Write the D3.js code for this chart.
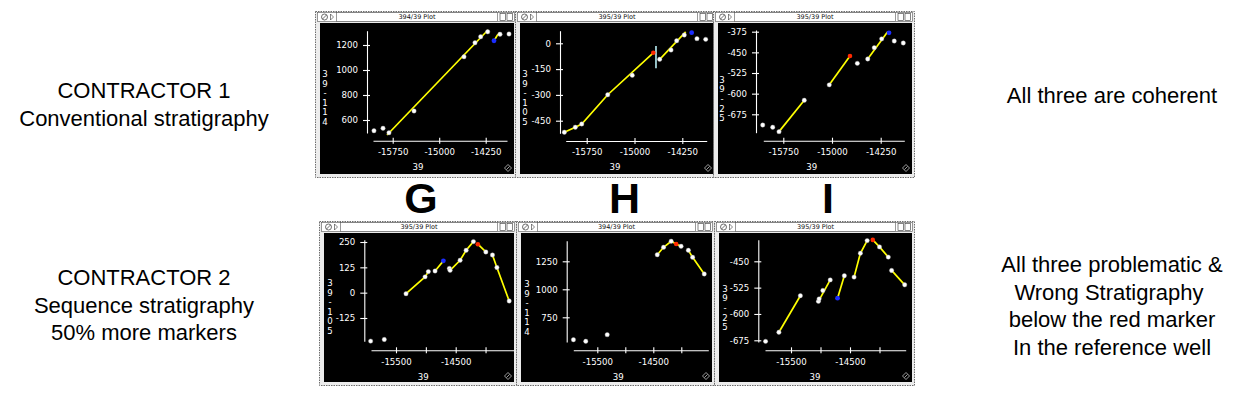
<!DOCTYPE html>
<html>
<head>
<meta charset="utf-8">
<script src="https://d3js.org/d3.v7.min.js"></script>
<style>
    body { margin: 0; background: #fff; }
    svg { display: block; }
    .side { font-family: "Liberation Sans", Arial, sans-serif; font-size: 22px; fill: #000; }
    .big { font-family: "Liberation Sans", Arial, sans-serif; font-size: 43px; font-weight: bold; fill: #000; }
    .pt { font-family: "DejaVu Sans", Verdana, sans-serif; font-size: 8.6px; fill: #fff; }
    .wt { font-family: "DejaVu Sans", Verdana, sans-serif; font-size: 6.5px; fill: #111; }
</style>
</head>
<body>
<script>
// tick values
let xTicksTop = [-15750, -15000, -14250];
let xTicksBottom = [-15500, -15000, -14500, -14000];
let xLabelsBottom = [-15500, -14500];

let yTicksG1 = [600, 800, 1000, 1200];
let yTicksH1 = [-450, -300, -150, 0];
let yTicksI1 = [-675, -600, -525, -450, -375];
let yTicksG2 = [-125, 0, 125, 250];
let yTicksH2 = [750, 1000, 1250];
let yTicksI2 = [-675, -600, -525, -450];

// contractor 1 - markers (x = 39, y = well)
let dotsG1 = [[-16052, 514], [-15906, 534], [-15810, 498], [-15406, 672], [-14600, 1106], [-14423, 1218],
    [-14331, 1266], [-14218, 1306], [-14019, 1286], [-13874, 1288]];
let linesG1 = [[[-15842, 480], [-14213, 1320]], [[-14116, 1234], [-14060, 1280], [-14019, 1298]]];
let blueG1 = [-14116, 1234];

let dotsH1 = [[-16101, -517], [-15929, -488], [-15828, -469], [-15420, -299], [-15035, -186], [-14605, -93],
    [-14427, -39], [-14338, 15], [-14219, 48], [-14020, 27], [-13883, 23]];
let linesH1 = [[[-16101, -517], [-15929, -488], [-15828, -469], [-15420, -299], [-14705, -55]],
    [[-14605, -93], [-14197, 66]]];
let redH1 = [-14705, -55];
let blueH1 = [-14103, 62];
let barH1 = [[-14663, -16], [-14663, -145]];

let dotsI1 = [[-16067, -714], [-15913, -722], [-15816, -738], [-15427, -624], [-15042, -568], [-14610, -490],
    [-14450, -474], [-14349, -433], [-14235, -401], [-14041, -409], [-13902, -416]];
let linesI1 = [[[-15816, -738], [-15427, -624]], [[-15042, -568], [-14723, -463]], [[-14450, -474], [-14140, -374]]];
let redI1 = [-14723, -463];
let blueI1 = [-14122, -379];

// contractor 2
let dotsG2 = [[-15925, -239], [-15696, -231], [-15332, -5], [-15013, 78], [-14958, 104], [-14846, 107],
    [-14606, 120], [-14594, 110], [-14426, 160], [-14325, 209], [-14203, 252], [-13995, 201], [-13884, 186],
    [-13810, 124], [-13604, -41]];
let linesG2 = [[[-15332, -5], [-15013, 78], [-14958, 104]], [[-14846, 107], [-14706, 157]],
    [[-14594, 110], [-14426, 160], [-14325, 209], [-14203, 252]], [[-14129, 239], [-13995, 201]],
    [[-13884, 186], [-13810, 124], [-13604, -41]]];
let redG2 = [-14129, 239];
let blueG2 = [-14706, 157];

let dotsH2 = [[-15926, 550], [-15706, 536], [-15323, 595], [-14429, 1309], [-14317, 1375], [-14181, 1429],
    [-14004, 1384], [-13874, 1348], [-13798, 1286], [-13590, 1137]];
let linesH2 = [[[-14429, 1309], [-14317, 1375], [-14181, 1429], [-14092, 1404], [-14004, 1384]],
    [[-13874, 1348], [-13798, 1286], [-13590, 1137]]];
let redH2 = [-14092, 1404];

let dotsI2 = [[-15931, -678], [-15705, -652], [-15341, -548], [-15035, -564], [-15023, -557], [-14960, -533],
    [-14835, -503], [-14596, -491], [-14431, -495], [-14324, -427], [-14209, -391], [-14000, -409],
    [-13851, -438], [-13795, -476], [-13573, -517]];
let linesI2 = [[[-15705, -652], [-15341, -548]], [[-15035, -564], [-14835, -503]], [[-14711, -555], [-14596, -491]],
    [[-14431, -495], [-14324, -427], [-14209, -391]], [[-14114, -389], [-14000, -409], [-13851, -438]],
    [[-13795, -476], [-13573, -517]]];
let redI2 = [-14114, -389];
let blueI2 = [-14711, -555];

let leftTop = ["CONTRACTOR 1", "Conventional stratigraphy"];
let leftBottom = ["CONTRACTOR 2", "Sequence stratigraphy", "50% more markers"];
let rightTop = ["All three are coherent"];
let rightBottom = ["All three problematic &", "Wrong Stratigraphy ", "below the red marker", "In the reference well"];
let letters = ["G", "H", "I"];

let width = 1250,
    height = 395;

let svg = d3.select("body").append("svg")
    .attr("width", width)
    .attr("height", height);

// layout of the six plot windows (box = black area x, y, w, h)
let panels = [
    { title: "394/39 Plot", yName: "39-114", box: [320, 23, 194, 151], xDom: [-15750, -14250], xRange: [392.7, 485.7],
      yDom: [600, 1200], yRange: [120, 45], xAxisY: 140.7, xSpan: [373, 507], yAxisX: 367, ySpan: [133, 30.7],
      yNameX: 325, yNameY: 98, xNameX: 418, labY: 155, nameY: 169.5,
      xTicks: xTicksTop, xLabels: xTicksTop, yTicks: yTicksG1, dots: dotsG1, lines: linesG1, blue: blueG1 },
    { title: "395/39 Plot", yName: "39-105", box: [520, 23, 194, 151], xDom: [-15750, -14250], xRange: [586.7, 682.3],
      yDom: [-450, 0], yRange: [120.7, 43.3], xAxisY: 141, xSpan: [565.7, 706.7], yAxisX: 560, ySpan: [133.3, 30.7],
      yNameX: 525, yNameY: 98, xNameX: 615, labY: 155, nameY: 169.5,
      xTicks: xTicksTop, xLabels: xTicksTop, yTicks: yTicksH1, dots: dotsH1, lines: linesH1, red: redH1, blue: blueH1, bar: barH1 },
    { title: "395/39 Plot", yName: "39-25", box: [718, 23, 194, 151], xDom: [-15750, -14250], xRange: [783.3, 880.7],
      yDom: [-675, -375], yRange: [114.3, 31.7], xAxisY: 140.7, xSpan: [763.3, 904.3], yAxisX: 756, ySpan: [132.7, 30],
      yNameX: 722, yNameY: 99, xNameX: 811.7, labY: 155, nameY: 169.5,
      xTicks: xTicksTop, xLabels: xTicksTop, yTicks: yTicksI1, dots: dotsI1, lines: linesI1, red: redI1, blue: blueI1 },
    { title: "395/39 Plot", yName: "39-105", box: [324, 233, 190, 149], xDom: [-15500, -14500], xRange: [396, 455.7],
      yDom: [-125, 250], yRange: [318, 242], xAxisY: 350.3, xSpan: [371, 514], yAxisX: 364.3, ySpan: [341.3, 239.7],
      yNameX: 330, yNameY: 307, xNameX: 423.3, labY: 364.5, nameY: 379.5,
      xTicks: xTicksBottom, xLabels: xLabelsBottom, yTicks: yTicksG2, dots: dotsG2, lines: linesG2, red: redG2, blue: blueG2 },
    { title: "394/39 Plot", yName: "39-114", box: [521, 233, 191, 149], xDom: [-15500, -14500], xRange: [597.3, 653.3],
      yDom: [750, 1250], yRange: [317.3, 261.3], xAxisY: 350.3, xSpan: [573.3, 708.3], yAxisX: 566.7, ySpan: [342, 240.7],
      yNameX: 527, yNameY: 308, xNameX: 618.3, labY: 364.5, nameY: 379.5,
      xTicks: xTicksBottom, xLabels: xLabelsBottom, yTicks: yTicksH2, dots: dotsH2, lines: linesH2, red: redH2 },
    { title: "395/39 Plot", yName: "39-25", box: [719, 233, 193, 149], xDom: [-15500, -14500], xRange: [791, 850],
      yDom: [-675, -450], yRange: [340.3, 261.3], xAxisY: 350.3, xSpan: [765, 905.7], yAxisX: 758.3, ySpan: [342, 239.7],
      yNameX: 725, yNameY: 308, xNameX: 815, labY: 364.5, nameY: 379.5,
      xTicks: xTicksBottom, xLabels: xLabelsBottom, yTicks: yTicksI2, dots: dotsI2, lines: linesI2, red: redI2, blue: blueI2 }
];

panels.forEach(drawPanel);

function drawWindow(g, p) {
    let [bx, by, bw, bh] = p.box;

    // grey dashed frame
    g.append("rect")
        .attr("x", bx - 4.5).attr("y", by - 11.5)
        .attr("width", bw + 7).attr("height", bh + 15)
        .attr("fill", "#ececec")
        .attr("stroke", "#6e6e6e")
        .attr("stroke-dasharray", "1.5,1");

    // title bar
    g.append("rect")
        .attr("x", bx - 2.5).attr("y", by - 10.5)
        .attr("width", bw + 3).attr("height", 9)
        .attr("fill", "#fff").attr("stroke", "#555").attr("stroke-width", 0.6);
    g.append("rect")
        .attr("x", bx + 16.5).attr("y", by - 10.5)
        .attr("width", bw - 33).attr("height", 9)
        .attr("fill", "#fff").attr("stroke", "#555").attr("stroke-width", 0.6);
    g.append("text")
        .attr("class", "wt")
        .attr("x", bx + bw / 2).attr("y", by - 3.6)
        .attr("text-anchor", "middle")
        .text(p.title);

    // close / zoom icons on the left
    g.append("circle")
        .attr("cx", bx + 4.5).attr("cy", by - 6)
        .attr("r", 3).attr("fill", "none").attr("stroke", "#333").attr("stroke-width", 0.7);
    g.append("line")
        .attr("x1", bx + 2.5).attr("y1", by - 4).attr("x2", bx + 6.5).attr("y2", by - 8)
        .attr("stroke", "#333").attr("stroke-width", 0.7);
    g.append("path")
        .attr("d", `M${bx + 10.5},${by - 9} L${bx + 13.5},${by - 6} L${bx + 10.5},${by - 3} Z`)
        .attr("fill", "none").attr("stroke", "#333").attr("stroke-width", 0.6);

    // page icons on the right
    [bw - 14, bw - 7].forEach(function (o) {
        g.append("rect")
            .attr("x", bx + o).attr("y", by - 9.5)
            .attr("width", 5.5).attr("height", 7)
            .attr("fill", "#fff").attr("stroke", "#333").attr("stroke-width", 0.6);
    });

    // black plot area
    g.append("rect")
        .attr("x", bx).attr("y", by)
        .attr("width", bw).attr("height", bh)
        .attr("fill", "#000");

    // resize glyph
    let rx = bx + bw - 6, ry = by + bh - 6;
    g.append("path")
        .attr("d", `M${rx - 3.5},${ry} L${rx},${ry - 3.5} L${rx + 3.5},${ry} L${rx},${ry + 3.5} Z`)
        .attr("fill", "none").attr("stroke", "#ddd").attr("stroke-width", 0.7);
    g.append("line")
        .attr("x1", rx - 1.5).attr("y1", ry + 1.5).attr("x2", rx + 1.5).attr("y2", ry - 1.5)
        .attr("stroke", "#ddd").attr("stroke-width", 0.7);
}

function drawPanel(p) {
    let g = svg.append("g");
    drawWindow(g, p);

    let x = d3.scaleLinear().domain(p.xDom).range(p.xRange);
    let y = d3.scaleLinear().domain(p.yDom).range(p.yRange);

    // axis scales cover only the drawn axis lines
    let xa = x.copy().domain(p.xSpan.map(x.invert)).range(p.xSpan);
    let ya = y.copy().domain(p.ySpan.map(y.invert)).range(p.ySpan);

    // plain hyphen, no thousands separator (as in the old mac plot)
    let fmt = d => String(d);

    let yAxis = g.append("g")
        .attr("transform", `translate(${p.yAxisX},0)`)
        .call(d3.axisLeft(ya).tickValues(p.yTicks).tickSizeOuter(0).tickSizeInner(4).tickPadding(5)
            .tickFormat(fmt));
    let xAxis = g.append("g")
        .attr("transform", `translate(0,${p.xAxisY})`)
        .call(d3.axisBottom(xa).tickValues(p.xTicks).tickSizeOuter(0).tickSizeInner(3)
            .tickFormat(d => p.xLabels.includes(d) ? fmt(d) : ""));

    [yAxis, xAxis].forEach(function (ax) {
        ax.select(".domain").attr("stroke", "#fff").attr("stroke-width", 1.1);
        ax.selectAll(".tick line").attr("stroke", "#fff").attr("stroke-width", 1.1);
        ax.selectAll(".tick text").attr("class", "pt").attr("fill", "#fff").attr("font-family", null).attr("font-size", null);
    });
    yAxis.selectAll(".tick line").attr("x2", -4).attr("x1", 3);
    xAxis.selectAll(".tick line").attr("y1", -3).attr("y2", 3);
    xAxis.selectAll(".tick text").attr("y", null).attr("dy", null)
        .attr("transform", `translate(0,${p.labY - p.xAxisY})`);

    // axis names
    g.append("text")
        .attr("class", "pt")
        .attr("x", p.xNameX).attr("y", p.nameY)
        .attr("text-anchor", "middle")
        .text("39");

    let chars = p.yName.split("");
    g.selectAll("text.yname")
        .data(chars)
        .enter()
        .append("text")
        .attr("class", "pt yname")
        .attr("x", p.yNameX)
        .attr("y", (d, i) => p.yNameY + (i - (chars.length - 1) / 2) * 9.6 + 3)
        .attr("text-anchor", "middle")
        .text(d => d);

    let line = d3.line().x(d => x(d[0])).y(d => y(d[1]));

    g.selectAll("path.seg")
        .data(p.lines)
        .enter()
        .append("path")
        .attr("class", "seg")
        .attr("d", line)
        .attr("fill", "none")
        .attr("stroke", "#ffff00")
        .attr("stroke-width", 1.7);

    if (p.bar) {
        g.append("path")
            .attr("d", line(p.bar))
            .attr("stroke", "#b8eef4")
            .attr("stroke-width", 1.6);
    }

    g.selectAll("circle.dot")
        .data(p.dots)
        .enter()
        .append("circle")
        .attr("class", "dot")
        .attr("cx", d => x(d[0]))
        .attr("cy", d => y(d[1]))
        .attr("r", 2.2)
        .attr("fill", "#fff")
        .attr("stroke", "#aaa")
        .attr("stroke-width", 0.4);

    if (p.red) {
        g.append("circle")
            .attr("cx", x(p.red[0])).attr("cy", y(p.red[1]))
            .attr("r", 2.3).attr("fill", "#ff2a00");
    }
    if (p.blue) {
        g.append("circle")
            .attr("cx", x(p.blue[0])).attr("cy", y(p.blue[1]))
            .attr("r", 2.4).attr("fill", "#1a2cff");
    }
}

// side texts
function drawLines(lines, cx, y0, step) {
    svg.selectAll(null)
        .data(lines)
        .enter()
        .append("text")
        .attr("class", "side")
        .attr("x", cx)
        .attr("y", (d, i) => y0 + i * step)
        .attr("text-anchor", "middle")
        .style("white-space", "pre")
        .text(d => d);
}

drawLines(leftTop, 144, 98, 28);
drawLines(leftBottom, 144, 285, 27.5);
drawLines(rightTop, 1112, 103, 28);
drawLines(rightBottom, 1112, 272, 27.7);

// big letters between the rows
let letterX = d3.scalePoint().domain(letters).range([421, 828]);
svg.selectAll("text.big")
    .data(letters)
    .enter()
    .append("text")
    .attr("class", "big")
    .attr("x", d => letterX(d))
    .attr("y", 213)
    .attr("text-anchor", "middle")
    .text(d => d);
</script>
</body>
</html>
